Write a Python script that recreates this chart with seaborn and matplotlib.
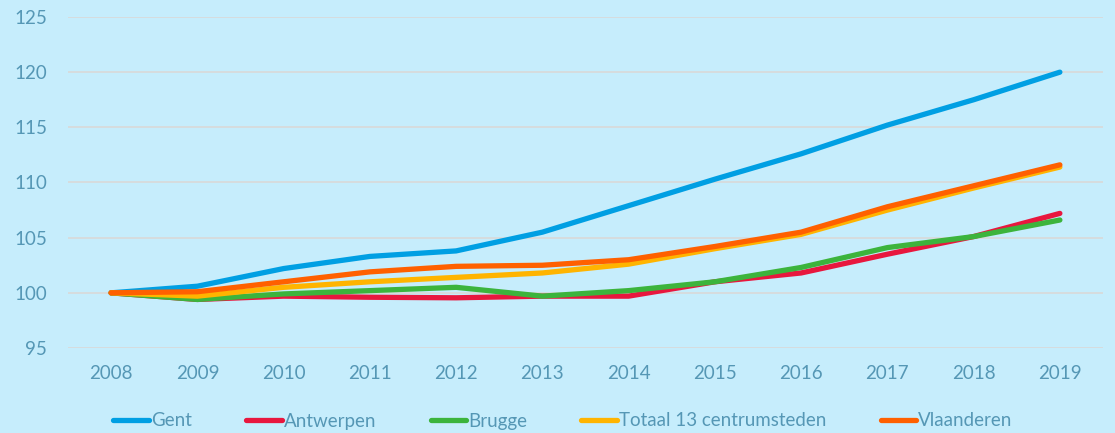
import matplotlib
matplotlib.use("Agg")
import matplotlib.pyplot as plt
import seaborn as sns
import pandas as pd

years = [2008, 2009, 2010, 2011, 2012, 2013, 2014, 2015, 2016, 2017, 2018, 2019]
gent = [100.0, 100.6, 102.2, 103.3, 103.8, 105.5, 107.9, 110.3, 112.6, 115.2, 117.5, 120.0]
antwerpen = [100.0, 99.4, 99.7, 99.6, 99.55, 99.7, 99.7, 101.0, 101.8, 103.5, 105.1, 107.2]
brugge = [100.0, 99.4, 99.9, 100.2, 100.5, 99.7, 100.2, 101.0, 102.3, 104.1, 105.1, 106.6]
totaal = [100.0, 99.7, 100.5, 101.0, 101.4, 101.8, 102.6, 104.0, 105.3, 107.5, 109.5, 111.4]
vlaanderen = [100.0, 100.1, 101.0, 101.9, 102.4, 102.5, 103.0, 104.2, 105.5, 107.8, 109.7, 111.6]

series_names = ["Gent", "Antwerpen", "Brugge", "Totaal 13 centrumsteden", "Vlaanderen"]
series_values = [gent, antwerpen, brugge, totaal, vlaanderen]
colors = ["#009FE3", "#E8173E", "#3CB43C", "#FFB400", "#FF6000"]

rows = []
for name, vals in zip(series_names, series_values):
    for y, v in zip(years, vals):
        rows.append({"jaar": y, "waarde": v, "reeks": name})
df = pd.DataFrame(rows)

sns.set_theme(style="white")
plt.rcParams["font.family"] = ["Lato", "DejaVu Sans"]

bg = "#C6EDFC"
txt = "#5597B5"

fig = plt.figure(figsize=(11.15, 4.33), dpi=100, facecolor=bg)
ax = fig.add_axes([68 / 1115, 1 - 348 / 433, (1103 - 68) / 1115, (348 - 17) / 433])
ax.set_facecolor(bg)

sns.lineplot(data=df, x="jaar", y="waarde", hue="reeks", hue_order=series_names,
             palette=colors, linewidth=3.8, ax=ax, legend=True,
             solid_capstyle="round")

ax.set_xlim(2007.5, 2019.5)
ax.set_ylim(95, 125)
ax.set_yticks(range(95, 126, 5))
ax.set_xticks(years)
ax.set_xticklabels([str(y) for y in years])
ax.grid(axis="y", color="#D9D9D9", linewidth=1.2)
ax.set_axisbelow(True)
for s in ax.spines.values():
    s.set_visible(False)
ax.tick_params(axis="both", length=0, labelsize=13.5, colors=txt)
ax.tick_params(axis="x", pad=12)
ax.tick_params(axis="y", pad=15)
ax.set_xlabel("")
ax.set_ylabel("")

handles, labels = ax.get_legend_handles_labels()
ax.get_legend().remove()
leg = fig.legend(handles, labels, loc="center", bbox_to_anchor=(563 / 1115, 1 - 421 / 433),
                 ncol=5, frameon=False, fontsize=13.5, handlelength=1.9, handletextpad=0.1,
                 columnspacing=2.9, labelcolor=txt)
for h in leg.get_lines():
    h.set_linewidth(3.8)

fig.savefig("out.png", dpi=100, facecolor=bg)
